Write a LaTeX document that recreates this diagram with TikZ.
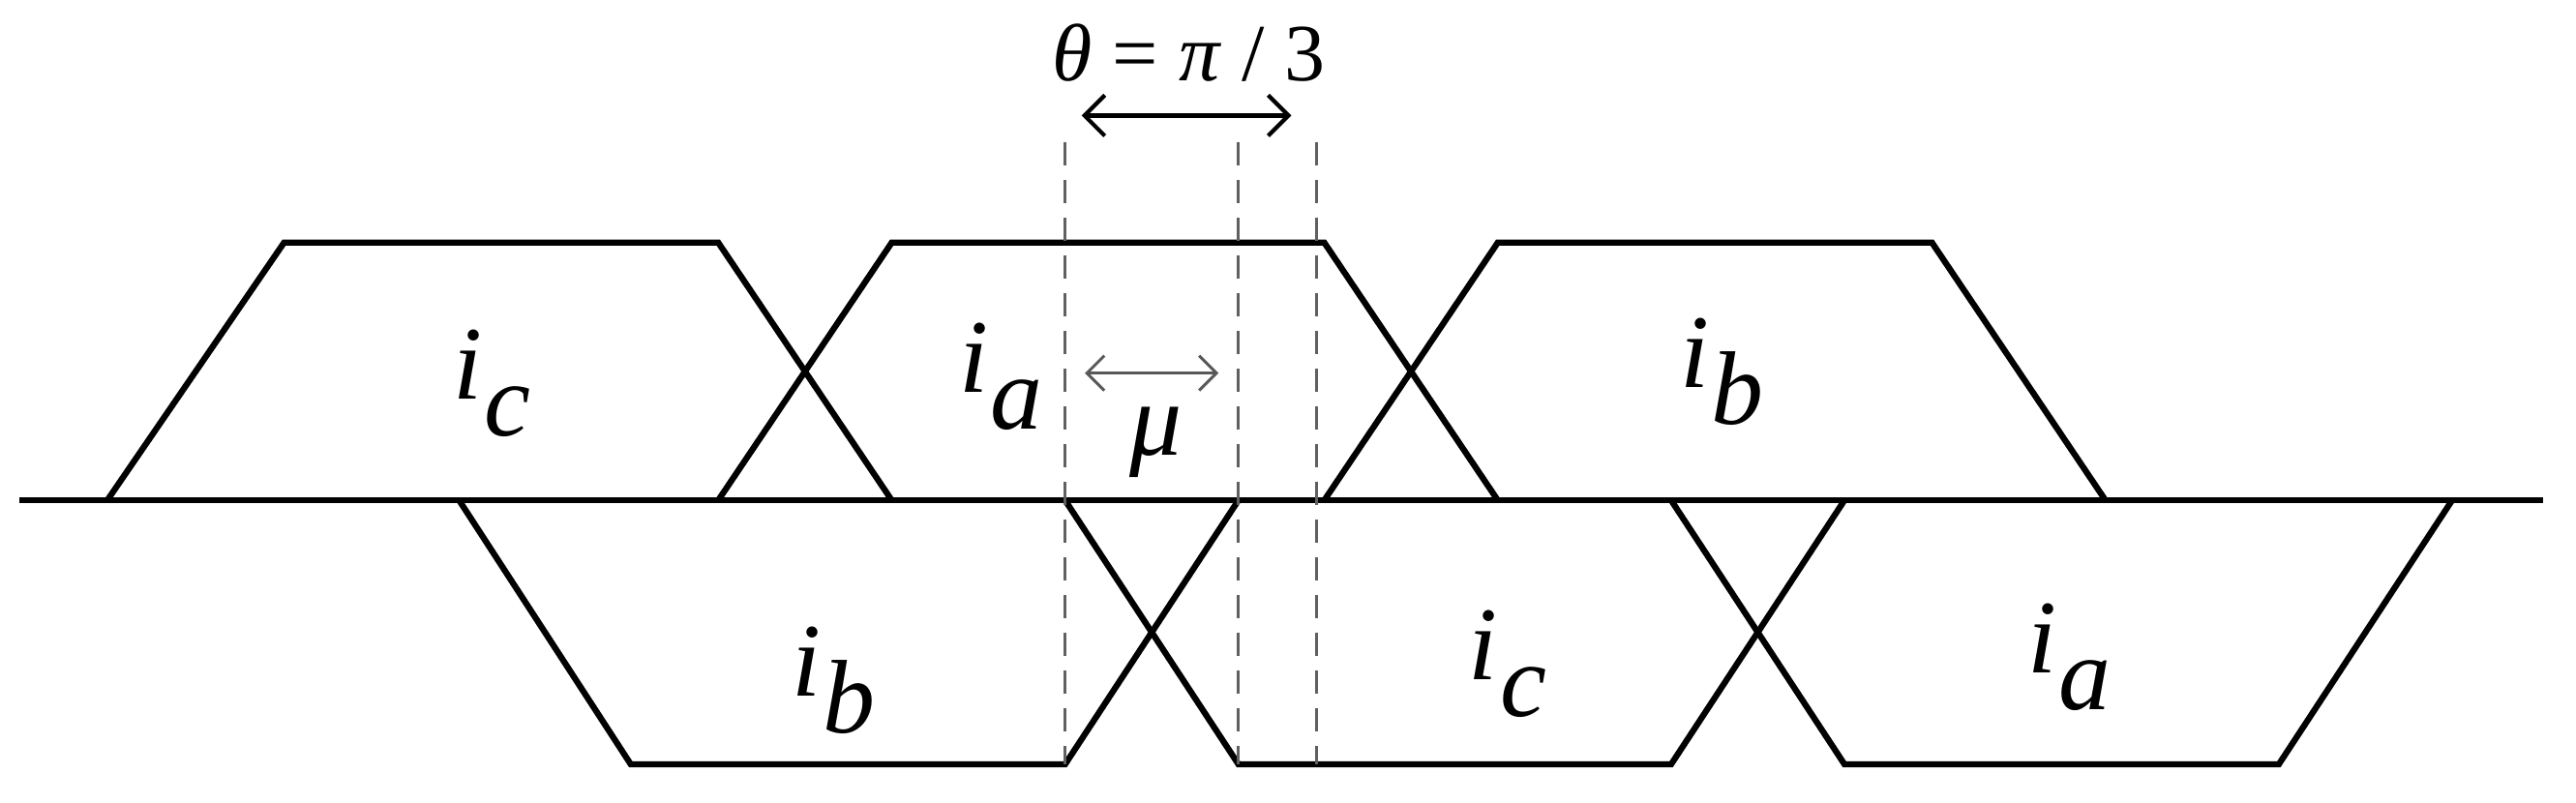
\documentclass[tikz,border=0pt]{standalone}
\usepackage{fontspec}
\setmainfont{Liberation Serif}
\usetikzlibrary{arrows.meta}
\newcommand{\cur}[1]{\textit{i}\kern0.02em\raisebox{-0.35em}{\textit{#1}}}
\begin{document}
\begin{tikzpicture}[x=0.01cm,y=-0.01cm,
  wave/.style={line width=1.05pt,line join=miter},
  guide/.style={line width=0.5pt,gray!75!black,dash pattern=on 4pt off 2.5pt},
  lbl/.style={font=\fontsize{18}{18}\selectfont},
  dim/.style={line width=0.7pt,{Straight Barb[length=3.5pt,width=7pt]}-{Straight Barb[length=3.5pt,width=7pt]}}]
\useasboundingbox (0,0) rectangle (1560,486);
% baseline
\coordinate (bl) at (12,303); \coordinate (br) at (1540,303);
\draw[wave] (bl) -- (br);
% upper trapezoids
\draw[wave] (65,303) -- (172,147) -- (435,147) -- (540,303);
\draw[wave] (435,303) -- (540,147) -- (802,147) -- (907,303);
\draw[wave] (802,303) -- (907,147) -- (1170,147) -- (1275,303);
% lower trapezoids
\draw[wave] (278,303) -- (382,463) -- (645,463) -- (750,303);
\draw[wave] (645,303) -- (750,463) -- (1012,463) -- (1117,303);
\draw[wave] (1012,303) -- (1117,463) -- (1380,463) -- (1485,303);
% dashed guides
\foreach \x/\n in {645/g1,750/g2,797/g3}{
  \coordinate (\n t) at (\x,86); \coordinate (\n b) at (\x,463);
  \draw[guide] (\n t) -- (\n b);}
% theta
\coordinate (tl) at (655,70); \coordinate (tr) at (782,70);
\draw[dim] (tl) -- (tr);
\node[font=\fontsize{14}{14}\selectfont] (theta) at (720,32) {\textit{θ} = \textit{π} / 3};
% mu
\coordinate (ml) at (657,226); \coordinate (mr) at (738,226);
\draw[line width=0.5pt,gray!70!black,{Straight Barb[length=3pt,width=6pt]}-{Straight Barb[length=3pt,width=6pt]}] (ml) -- (mr);
\node[lbl] (mu) at (700,268) {\textit{μ}};
% labels
\node[lbl] (uc) at (298,232) {\cur{c}};
\node[lbl] (ua) at (606,228) {\cur{a}};
\node[lbl] (ub) at (1043,225) {\cur{b}};
\node[lbl] (lb) at (505,412) {\cur{b}};
\node[lbl] (lc) at (913,402) {\cur{c}};
\node[lbl] (la) at (1253,398) {\cur{a}};
\end{tikzpicture}
\end{document}
